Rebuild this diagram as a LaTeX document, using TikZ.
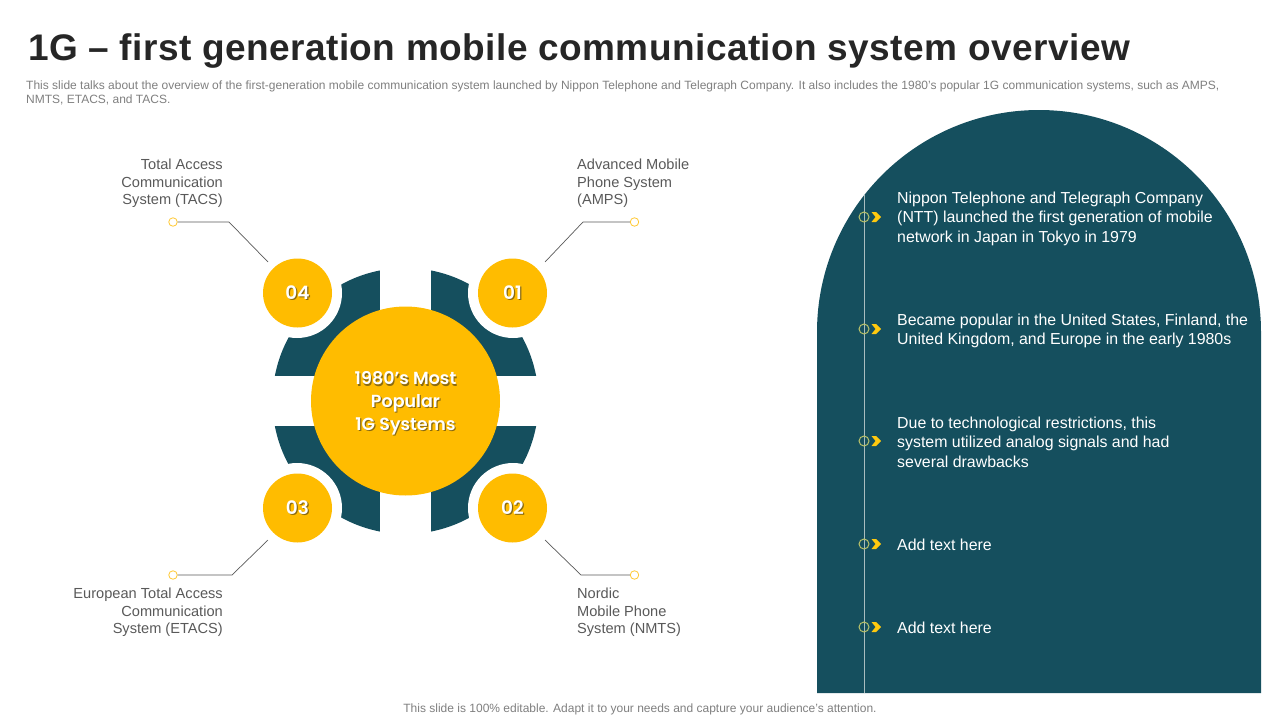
\documentclass[tikz,border=0pt]{standalone}
\usepackage{fontspec}
\setmainfont{Liberation Sans}
\newfontfamily\titlefont[LetterSpace=1.2]{Liberation Sans}
\newfontfamily\hubfont{Poppins SemiBold}
\definecolor{teal}{HTML}{154F5E}
\definecolor{gold}{HTML}{FFBC00}
\definecolor{txt}{HTML}{595959}
\definecolor{sub}{HTML}{7F7F7F}
\definecolor{ringc}{HTML}{B9C26A}
\definecolor{railc}{HTML}{A9BDBF}
\definecolor{chev}{HTML}{FFC90E}
\definecolor{shade}{HTML}{8A6A10}
\newcommand{\shtxt}[1]{\rlap{\kern1.2pt\raisebox{-1.2pt}{\textcolor{shade}{#1}}}#1}
\tikzset{
  x=1pt,y=-1pt,
  hub/.style={circle,fill=gold,draw=none,inner sep=0pt,minimum size=189pt,text=white,align=center,font=\hubfont\fontsize{17.5}{22.7}\selectfont},
  badge/.style={circle,fill=gold,draw=none,inner sep=0pt,minimum size=69pt,text=white,font=\hubfont\fontsize{18.5}{18.5}\selectfont},
  lead/.style={draw=black!65,line width=.7pt},
  dot/.style={circle,draw=gold!80!white,fill=white,line width=.8pt,inner sep=0pt,minimum size=8.5pt},
  lab/.style={text=txt,inner sep=0pt,font=\fontsize{14.6}{17.5}\selectfont},
  tick/.style={circle,draw=ringc,line width=1pt,inner sep=0pt,minimum size=10pt},
  point/.style={text=white,anchor=north west,align=left,inner sep=0pt,font=\fontsize{15.9}{19.2}\selectfont},
  chevshape/.style={fill=chev,draw=none},
}
\begin{document}
\begin{tikzpicture}
\useasboundingbox (0,0) rectangle (1280,720);
% title and notes
\node[anchor=base west,inner sep=0pt,text={black!85},font=\titlefont\bfseries\fontsize{37}{40}\selectfont] (title) at (28,60) {1G – first generation mobile communication system overview};
\node[anchor=base west,inner sep=0pt,text=sub,font=\fontsize{12}{14}\selectfont] (sub1) at (26,89) {This slide talks about the overview of the first-generation mobile communication system launched by Nippon Telephone and Telegraph Company. It also includes the 1980’s popular 1G communication systems, such as AMPS,};
\node[anchor=base west,inner sep=0pt,text=sub,font=\fontsize{12}{14}\selectfont] (sub2) at (26,103) {NMTS, ETACS, and TACS.};
\node[anchor=base,inner sep=0pt,text=sub,font=\fontsize{12}{14}\selectfont] (foot) at (640,712.5) {This slide is 100\% editable. Adapt it to your needs and capture your audience’s attention.};
% arch panel
\fill[teal] (817,693) -- (817,332) arc[start angle=180,end angle=360,radius=222] -- (1261,693) -- cycle;
\coordinate (railtop) at (864,195);
\coordinate (railbot) at (864,693);
\draw[railc,line width=.8pt] (railtop) -- (railbot);
% ring
\fill[teal] (405.5,401) circle[radius=133];
\fill[white] (380,260) rectangle (431,540);
\fill[white] (265,376) rectangle (546,426);
\foreach \p in {(297,293),(513,293),(297,508),(513,508)} \fill[white] \p circle[radius=45];
\node[hub] (hubc) at (405.5,401) {\rule{0pt}{19pt}\shtxt{1980’s Most}\\\shtxt{Popular}\\\shtxt{1G Systems}};
\node[badge] (b4) at (297.5,293) {\shtxt{04}};
\node[badge] (b1) at (512.5,293) {\shtxt{01}};
\node[badge] (b3) at (297.5,508) {\shtxt{03}};
\node[badge] (b2) at (512.5,508) {\shtxt{02}};
% leaders
\node[dot] (d4) at (173,222) {};
\node[dot] (d1) at (634.5,222) {};
\node[dot] (d3) at (173,575) {};
\node[dot] (d2) at (634.5,575) {};
\coordinate (e4) at (268,262); \coordinate (k4) at (229,222);
\coordinate (e1) at (545,262); \coordinate (k1) at (583,222);
\coordinate (e3) at (268,540); \coordinate (k3) at (232,575);
\coordinate (e2) at (545,540); \coordinate (k2) at (581,575);
\draw[lead] (d4) -- (k4) -- (e4);
\draw[lead] (d1) -- (k1) -- (e1);
\draw[lead] (d3) -- (k3) -- (e3);
\draw[lead] (d2) -- (k2) -- (e2);
\node[lab,anchor=north east,align=right] (l4) at (223,159) {Total Access\\Communication\\System (TACS)};
\node[lab,anchor=north west,align=left] (l1) at (577,159) {Advanced Mobile\\Phone System\\(AMPS)};
\node[lab,anchor=north east,align=right] (l3) at (223,588) {European Total Access\\Communication\\System (ETACS)};
\node[lab,anchor=north west,align=left] (l2) at (577,588) {Nordic\\Mobile Phone\\System (NMTS)};
% bullets
\foreach \n/\y in {a/217,b/329,c/441,d/544,e/627}{
  \node[tick] (t\n) at (864,\y) {};
  \fill[chevshape] (871.5,\y-5) -- (876,\y-5) -- (881,\y) -- (876,\y+5) -- (871.5,\y+5) -- (875.5,\y) -- cycle;
}
\node[point] (pa) at (897,192) {Nippon Telephone and Telegraph Company\\(NTT) launched the first generation of mobile\\network in Japan in Tokyo in 1979};
\node[point] (pb) at (897,314) {Became popular in the United States, Finland, the\\United Kingdom, and Europe in the early 1980s};
\node[point] (pc) at (897,417) {Due to technological restrictions, this\\system utilized analog signals and had\\several drawbacks};
\node[point] (pd) at (897,539) {Add text here};
\node[point] (pe) at (897,622) {Add text here};
\end{tikzpicture}
\end{document}
